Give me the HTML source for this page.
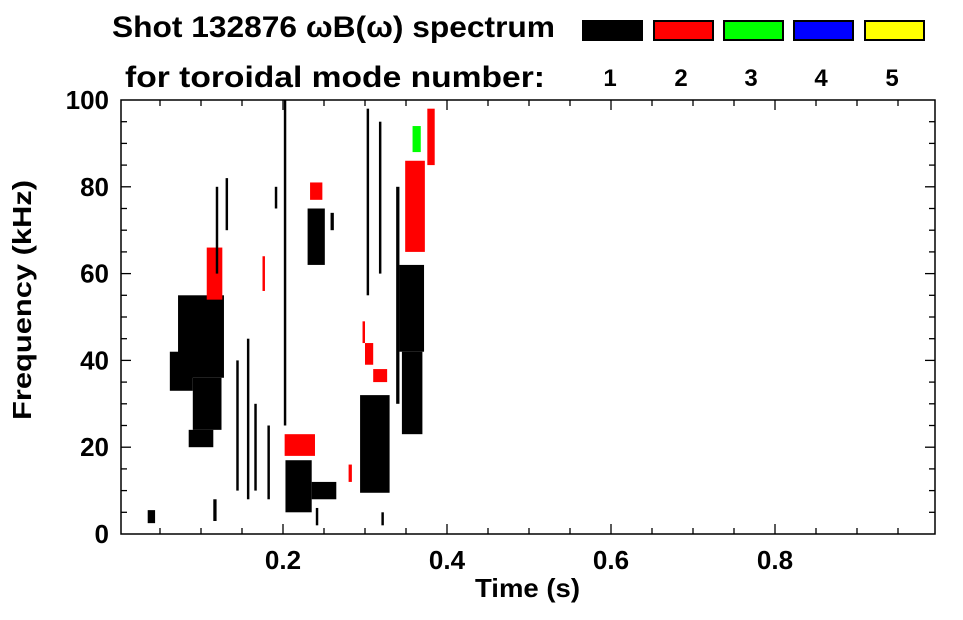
<!DOCTYPE html>
<html><head><meta charset="utf-8"><style>
body{margin:0;background:#fff;}
svg text{font-family:"Liberation Sans",sans-serif;font-weight:bold;fill:#000;}
</style></head><body>
<svg id="chart" width="963" height="615" xmlns="http://www.w3.org/2000/svg">
<text x="112" y="37" font-size="30" textLength="443" lengthAdjust="spacingAndGlyphs">Shot 132876 ωB(ω) spectrum</text>
<text x="125" y="87" font-size="30" textLength="420" lengthAdjust="spacingAndGlyphs">for toroidal mode number:</text>
<g id="legend"></g>
<g id="marks"></g>
<g id="axes"></g>
<text x="475" y="597" font-size="26" textLength="105" lengthAdjust="spacingAndGlyphs">Time (s)</text>
<text transform="translate(31,420) rotate(-90)" font-size="26" textLength="240" lengthAdjust="spacingAndGlyphs">Frequency (kHz)</text>
</svg>
<script>
const modeLabels=["1","2","3","4","5"];
const modeColors=["#000000","#ff0000","#00ff00","#0000ff","#ffff00"];
const xTicks=[0.2,0.4,0.6,0.8];
const yTicks=[0,20,40,60,80,100];
// blobs: time start/end (s), freq start/end (kHz), mode index
const bT0=[0.072,0.062,0.09,0.085,0.143,0.156,0.165,0.181,0.201,0.203,0.235,0.202,0.23,0.233,0.294,0.297,0.300,0.310,0.342,0.345,0.338,0.349,0.376,0.358,0.107,0.175,0.035,0.118,0.13,0.19,0.258,0.302,0.317,0.115,0.24,0.28,0.32];
const bT1=[0.128,0.09,0.125,0.115,0.146,0.159,0.168,0.184,0.204,0.235,0.265,0.239,0.251,0.248,0.33,0.300,0.310,0.327,0.372,0.37,0.342,0.373,0.385,0.368,0.126,0.178,0.044,0.121,0.133,0.193,0.262,0.305,0.32,0.119,0.243,0.284,0.323];
const bF0=[36,33,24,20,10,8,10,8,25,5,8,18,62,77,9.5,44,39,35,42,23,30,65,85,88,54,56,2.5,60,70,75,70,55,60,3,2,12,2];
const bF1=[55,42,36,24,40,45,30,25,100,17,12,23,75,81,32,49,44,38,62,42,80,86,98,94,66,64,5.5,80,82,80,74,98,95,8,6,16,5];
const bMode=[0,0,0,0,0,0,0,0,0,0,0,1,0,1,0,1,1,1,0,0,0,1,1,2,1,1,0,0,0,0,0,0,0,0,0,1,0];
const NS="http://www.w3.org/2000/svg";
const X0=121,X1=935,Y0=534,Y1=100;
const xs=t=>283+(t-0.2)*820;
const ys=f=>Y0-(f/100)*(Y0-Y1);
function mk(tag,attrs,parent){const e=document.createElementNS(NS,tag);for(const k in attrs)e.setAttribute(k,attrs[k]);parent.appendChild(e);return e;}
const marks=document.getElementById('marks');
for(let i=0;i<bT0.length;i++){
  const r=mk('rect',{x:xs(bT0[i]),y:ys(bF1[i]),width:Math.max(1,xs(bT1[i])-xs(bT0[i])),height:Math.max(1,ys(bF0[i])-ys(bF1[i])),fill:modeColors[bMode[i]]},marks);
  
  
}
const lg=document.getElementById('legend');
const lx=[582,653,723,793,864];
for(let i=0;i<modeLabels.length;i++){
  const r=mk('rect',{x:lx[i]+1,y:21,width:59,height:19,fill:modeColors[i],stroke:'#000','stroke-width':2},lg);
  
  
  const t=mk('text',{x:lx[i]+28,y:86,'font-size':24,'text-anchor':'middle'},lg);
  t.textContent=modeLabels[i];
  
  
}
const ax=document.getElementById('axes');
mk('rect',{x:X0,y:Y1,width:X1-X0,height:Y0-Y1,fill:'none',stroke:'#000','stroke-width':1.5},ax);
for(let t=0.05;t<0.99;t+=0.05){
  const x=xs(t);const major=Math.abs((t*10)%2)<0.01||Math.abs((t*10)%2-2)<0.01;const L=major?10:6;
  mk('line',{x1:x,x2:x,y1:Y0,y2:Y0-L,stroke:'#000','stroke-width':1.3},ax);
  mk('line',{x1:x,x2:x,y1:Y1,y2:Y1+L,stroke:'#000','stroke-width':1.3},ax);
}
xTicks.forEach(v=>{const t=mk('text',{x:xs(v),y:569,'font-size':26,'text-anchor':'middle'},ax);t.textContent=v.toFixed(1);
  });
for(let f=5;f<100;f+=5){
  const y=ys(f);const L=f%20===0?10:6;
  mk('line',{x1:X0,x2:X0+L,y1:y,y2:y,stroke:'#000','stroke-width':1.3},ax);
  mk('line',{x1:X1,x2:X1-L,y1:y,y2:y,stroke:'#000','stroke-width':1.3},ax);
}
yTicks.forEach(v=>{const t=mk('text',{x:109,y:ys(v)+9,'font-size':26,'text-anchor':'end'},ax);t.textContent=v;
  });
</script>
</body></html>
